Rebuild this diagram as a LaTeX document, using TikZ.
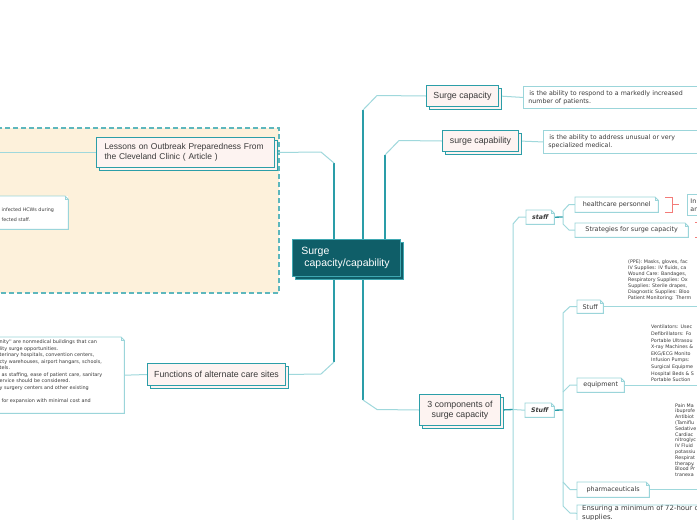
\documentclass[tikz,border=0pt]{standalone}
\usepackage{fontspec}
\setmainfont{Liberation Sans}
\newfontfamily\notefont{DejaVu Sans}
\usetikzlibrary{shadows}
\pgfdeclarelayer{back}
\pgfdeclarelayer{bg}
\pgfsetlayers{back,bg,main}
\definecolor{cfill}{HTML}{0F5E68}
\definecolor{cborder}{HTML}{3FA8B2}
\definecolor{tborder}{HTML}{2B9EA8}
\definecolor{tfill}{HTML}{FDF3F1}
\definecolor{nborder}{HTML}{9BD5DA}
\definecolor{lline}{HTML}{9FD8DC}
\definecolor{dline}{HTML}{2A9DA8}
\definecolor{bfill}{HTML}{FDF1DB}
\definecolor{bborder}{HTML}{5DB7BD}
\definecolor{txt}{HTML}{3A3A3A}
\definecolor{redb}{HTML}{F37B78}
\tikzset{nbd/.style={draw=nborder, line width=0.9pt}}
\newcommand\fold[1]{%
 \draw[nbd] (#1.south west) -- (#1.north west) -- ([xshift=-3.5pt]#1.north east) -- ([yshift=-3.5pt]#1.north east) -- (#1.south east) -- cycle;
 \draw[nbd, line width=0.6pt] ([xshift=-3.5pt]#1.north east) -- ([xshift=-3.5pt,yshift=-3.5pt]#1.north east) -- ([yshift=-3.5pt]#1.north east);}
\begin{document}
\begin{tikzpicture}[x=1pt,y=-1pt,
  centre/.style={fill=cfill, draw=cborder, line width=0.8pt, text=white,
    font=\fontsize{10.5}{11.5}\selectfont, align=left, text width=90pt, inner xsep=9pt,
    anchor=north west, minimum height=37pt,
    copy shadow={shadow xshift=3pt, shadow yshift=-3pt}},
  topic/.style={draw=tborder, fill=tfill, line width=1pt, text=txt,
    font=\fontsize{8.8}{10.5}\selectfont, inner sep=0pt, anchor=north west, align=center,
    copy shadow={shadow xshift=2.5pt, shadow yshift=-2.5pt}},
  note/.style={fill=white, text=txt, font=\notefont\fontsize{6.4}{8}\selectfont,
    inner sep=0pt, anchor=north west},
  plain/.style={nbd, fill=white, text=txt, font=\notefont\fontsize{6.3}{8}\selectfont,
    inner sep=0pt, anchor=north west},
  tiny/.style={text=txt, font=\notefont\fontsize{4.8}{5.8}\selectfont, inner sep=0pt,
    align=left},
  conn/.style={draw=lline, line width=1pt},
  trunk/.style={draw=dline, line width=2pt},
  trunkb/.style={draw=dline, line width=1.3pt},
  bracket/.style={draw=redb, line width=0.9pt}]
\useasboundingbox (0,0) rectangle (697,520);
\clip (0,0) rectangle (697,520);
\begin{pgfonlayer}{back}
\fill[white] (0,0) rectangle (697,520);
\draw[draw=bborder, fill=bfill, line width=1.3pt, dash pattern=on 5pt off 3pt] (-10,128) rectangle (279,293);
\end{pgfonlayer}

% central topic
\node[centre] (c) at (292,239) {Surge\\\hspace*{3pt}capacity/capability};

% main topics
\node[topic, minimum width=178pt, minimum height=30pt, align=left, text width=162pt, font=\fontsize{8.45}{10.5}\selectfont] (les) at (96,137) {Lessons on Outbreak Preparedness From\\the Cleveland Clinic ( Article )};
\node[topic, minimum width=138pt, minimum height=22pt] (func) at (147,363) {Functions of alternate care sites};
\node[topic, minimum width=72pt, minimum height=21pt] (sc) at (426,85) {Surge capacity};
\node[topic, minimum width=76pt, minimum height=21pt] (scb) at (442,130) {surge capability};
\node[topic, minimum width=81pt, minimum height=31pt] (tc) at (419,394) {3 components of\\surge capacity};

% definition notes
\node[plain, minimum width=200pt, minimum height=22pt, text width=190pt, align=left, inner xsep=5pt] (d1) at (523,86) {\hspace*{1pt}is the ability to respond to a markedly increased\\number of patients.};
\node[plain, minimum width=200pt, minimum height=23pt, text width=190pt, align=left, inner xsep=5pt] (d2) at (543,130) {\hspace*{1pt}is the ability to address unusual or very\\specialized medical.};

% left notes
\node[note, minimum width=73pt, minimum height=33pt] (lnote) at (-5,196) {};
\fold{lnote}
\node[tiny, anchor=north west] (ltext) at (1.5,207.5) {infected HCWs during\\[4.5pt]fected staff.};
\node[note, minimum width=129pt, minimum height=76pt] (fnote) at (-5,337) {};
\fold{fnote}
\node[tiny, anchor=north west, font=\notefont\fontsize{4.9}{6.5}\selectfont] (ftext) at (-0.5,340) {nity'' are nonmedical buildings that can\\
lity surge opportunities.\\
terinary hospitals, convention centers,\\
cty warehouses, airport hangars, schools,\\
tels.\\
\hspace*{2pt}as staffing, ease of patient care, sanitary\\
ervice should be considered.\\
y surgery centers and other existing\\
\mbox{}\\
\hspace*{2pt}for expansion with minimal cost and};

% third level
\node[note, font=\notefont\bfseries\itshape\fontsize{6.3}{8}\selectfont, minimum width=28pt, minimum height=14pt] (staff) at (526,210) {staff};
\fold{staff}
\node[note, font=\notefont\bfseries\itshape\fontsize{6.3}{8}\selectfont, minimum width=29pt, minimum height=14pt] (st2) at (525,403) {Stuff};
\fold{st2}
\node[note, minimum width=83pt, minimum height=15pt] (hp) at (575,197) {healthcare personnel};
\fold{hp}
\node[note, minimum width=113pt, minimum height=14pt] (strat) at (575,223) {Strategies for surge capacity};
\fold{strat}
\node[plain, minimum width=20pt, minimum height=21pt, align=left, text width=14pt, inner xsep=3pt] (inbox) at (687,194) {In\\an};
\node[note, minimum width=26pt, minimum height=13pt] (stuff1) at (577,300) {Stuff};
\fold{stuff1}
\node[note, minimum width=47pt, minimum height=14pt] (equip) at (577,378) {equipment};
\fold{equip}
\node[note, minimum width=72pt, minimum height=15pt] (pharma) at (577,482) {pharmaceuticals};
\fold{pharma}
\node[note, font=\notefont\fontsize{6.9}{9.5}\selectfont, minimum width=140pt, minimum height=16pt, align=left, text width=130pt, inner xsep=4pt, anchor=north west] (ens) at (577,505) {Ensuring a minimum of 72-hour c\\supplies.};
\fold{ens}

% text blocks
\node[tiny, anchor=south west, font=\notefont\fontsize{4.8}{6.1}\selectfont] (ppe) at (628,301) {(PPE): Masks, gloves, fac\\IV Supplies: IV fluids, ca\\Wound Care: Bandages,\\Respiratory Supplies: Ox\\Supplies: Sterile drapes,\\Diagnostic Supplies: Bloo\\Patient Monitoring: Therm};
\node[tiny, anchor=south west, font=\notefont\fontsize{4.8}{6.6}\selectfont] (eqt) at (651,382) {Ventilators: Usec\\Defibrillators: Fo\\Portable Ultrasou\\X-ray Machines \&\\EKG/ECG Monito\\Infusion Pumps:\\Surgical Equipme\\Hospital Beds \& S\\Portable Suction};
\node[tiny, anchor=south west] (pht) at (675,477) {Pain Ma\\ibuprofe\\Antibiot\\(Tamiflu\\Sedative\\Cardiac\\nitroglyc\\IV Fluid\\potassiu\\Respirat\\therapy.\\Blood Pr\\tranexa};

% connectors
\begin{pgfonlayer}{bg}
\draw[trunk] ([xshift=42pt]c.north west) -- (334,163);
\draw[conn] (334,163) -- (321,152) -- (les.east);
\draw[conn] (les.west) -- ++(-120,0);
\draw[trunk] ([xshift=42pt]c.south west) -- (334,362);
\draw[conn] (334,362) -- (321,374) -- (func.east);
\draw[conn] (func.west) -- (fnote.east);
\draw[trunk] ([xshift=71pt]c.north west) -- (363,110);
\draw[conn] (363,110) -- (377,95.5) -- (sc.west);
\draw[trunk] ([xshift=93pt]c.north west) -- (385,155);
\draw[conn] (385,155) -- (399,140.5) -- (scb.west);
\draw[conn] (sc.east) -- (d1.west);
\draw[conn] (scb.east) -- (d2.west);
\draw[trunk] ([xshift=71pt]c.south west) -- (363,400);
\draw[conn] (363,400) -- (377,409.5) -- (tc.west);
\draw[trunkb] (tc.east) -- (513,409.5);
\draw[conn] (513,409.5) -- (st2.west);
\draw[conn] (513,530) -- (513,224) -- (519,217) -- (staff.west);
\draw[trunkb] (staff.east) -- (563,217);
\draw[conn] (563,217) -- (563,211) -- (569,204.5) -- (hp.west);
\draw[conn] (563,217) -- (563,224) -- (569,230) -- (strat.west);
\draw[trunkb] (st2.east) -- (563,410);
\draw[conn] (563,506) -- (563,313) -- (570,306.5) -- (stuff1.west);
\draw[conn] (563,392) -- (570,385) -- (equip.west);
\draw[conn] (563,482) -- (570,489.5) -- (pharma.west);
\draw[conn] (563,506) -- (570,513) -- (ens.west);
\draw[conn] (stuff1.east) -- ++(120,0);
\draw[conn] (equip.east) -- ++(120,0);
\draw[conn] (pharma.east) -- ++(120,0);
\end{pgfonlayer}
\draw[bracket] (665,197) -- (672,197) -- (672,212) -- (665,212);
\draw[bracket] (672,204.5) -- (679,204.5);
\draw[bracket] (695,222) -- (702,222) -- (702,237) -- (695,237);
\end{tikzpicture}
\end{document}
